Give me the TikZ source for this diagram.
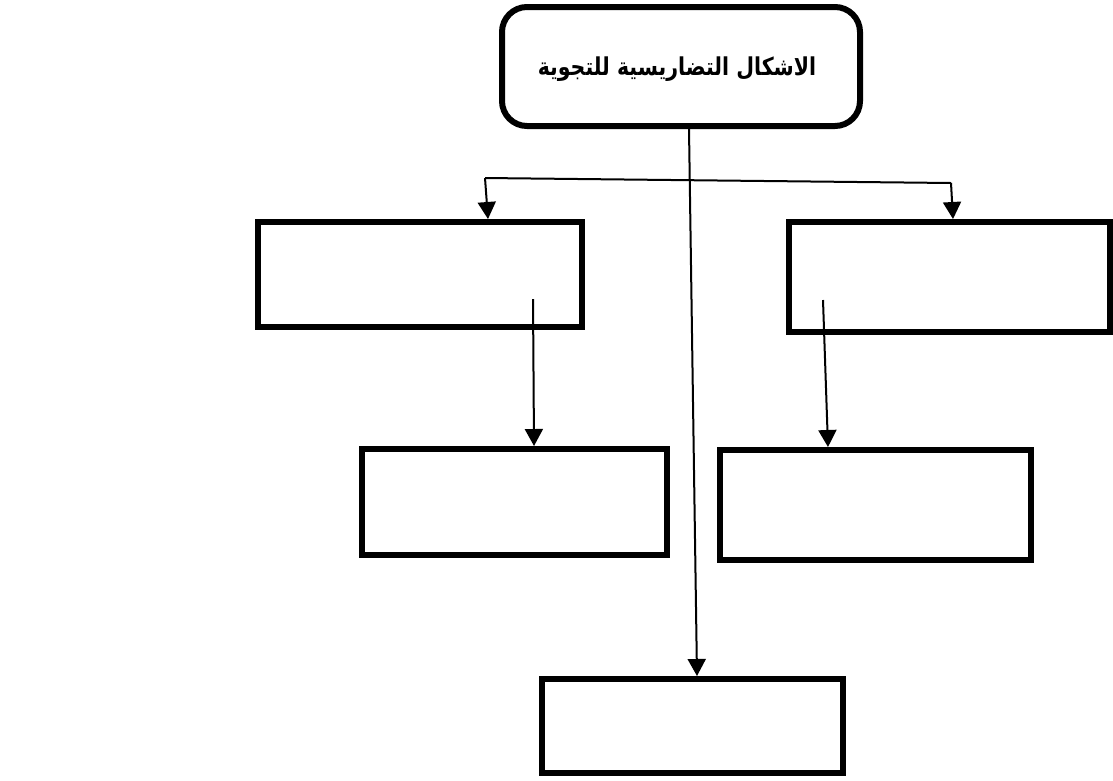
\documentclass[tikz,border=0pt]{standalone}
\usepackage{fontspec}
\usetikzlibrary{arrows.meta}
\TeXXeTstate=1
\newfontfamily\arabicfont[Script=Arabic]{DejaVu Sans}
\begin{document}
\begin{tikzpicture}[x=1pt,y=-1pt,
  boxstyle/.style={draw=black,line width=6pt,fill=none,inner sep=0pt},
  conn/.style={draw=black,line width=2pt},
  arr/.style={conn,-{Triangle[length=17pt,width=18pt]}}]
\useasboundingbox (0,0) rectangle (1113,780);
% top rounded box
\node[boxstyle,rounded corners=25pt,minimum width=358pt,minimum height=119pt] (top) at (681,66.5) {};
\node[inner sep=0pt] (title) at (677,69)
  {\arabicfont\bfseries\fontsize{20.5pt}{24pt}\selectfont\scalebox{1}[1.2]{\beginR الاشكال التضاريسية للتجوية\endR}};
% boxes
\node[boxstyle,minimum width=324pt,minimum height=105pt] (A) at (420,274.5) {};
\node[boxstyle,minimum width=321pt,minimum height=110pt] (B) at (949.5,277) {};
\node[boxstyle,minimum width=305pt,minimum height=106pt] (C) at (514.5,502) {};
\node[boxstyle,minimum width=311pt,minimum height=110pt] (D) at (875.5,505) {};
\node[boxstyle,minimum width=301pt,minimum height=94pt] (E) at (692.5,726) {};
% connector coordinates
\coordinate (tstart) at (689,126);
\coordinate (hl) at (485,178);
\coordinate (hr) at (951,183);
\coordinate (aS) at (533,299);
\coordinate (bS) at (823,300);
% long vertical line from top box to bottom box
\draw[arr] (tstart |- top.south) -- (697,0 |- E.north);
% branch line
\draw[conn] (hl) -- (hr);
\draw[arr] (hl) -- (488,0 |- A.north);
\draw[arr] (hr) -- (953,0 |- B.north);
% inner arrows
\draw[arr] (aS) -- (534,0 |- C.north);
\draw[arr] (bS) -- (828,0 |- D.north);
\end{tikzpicture}
\end{document}
